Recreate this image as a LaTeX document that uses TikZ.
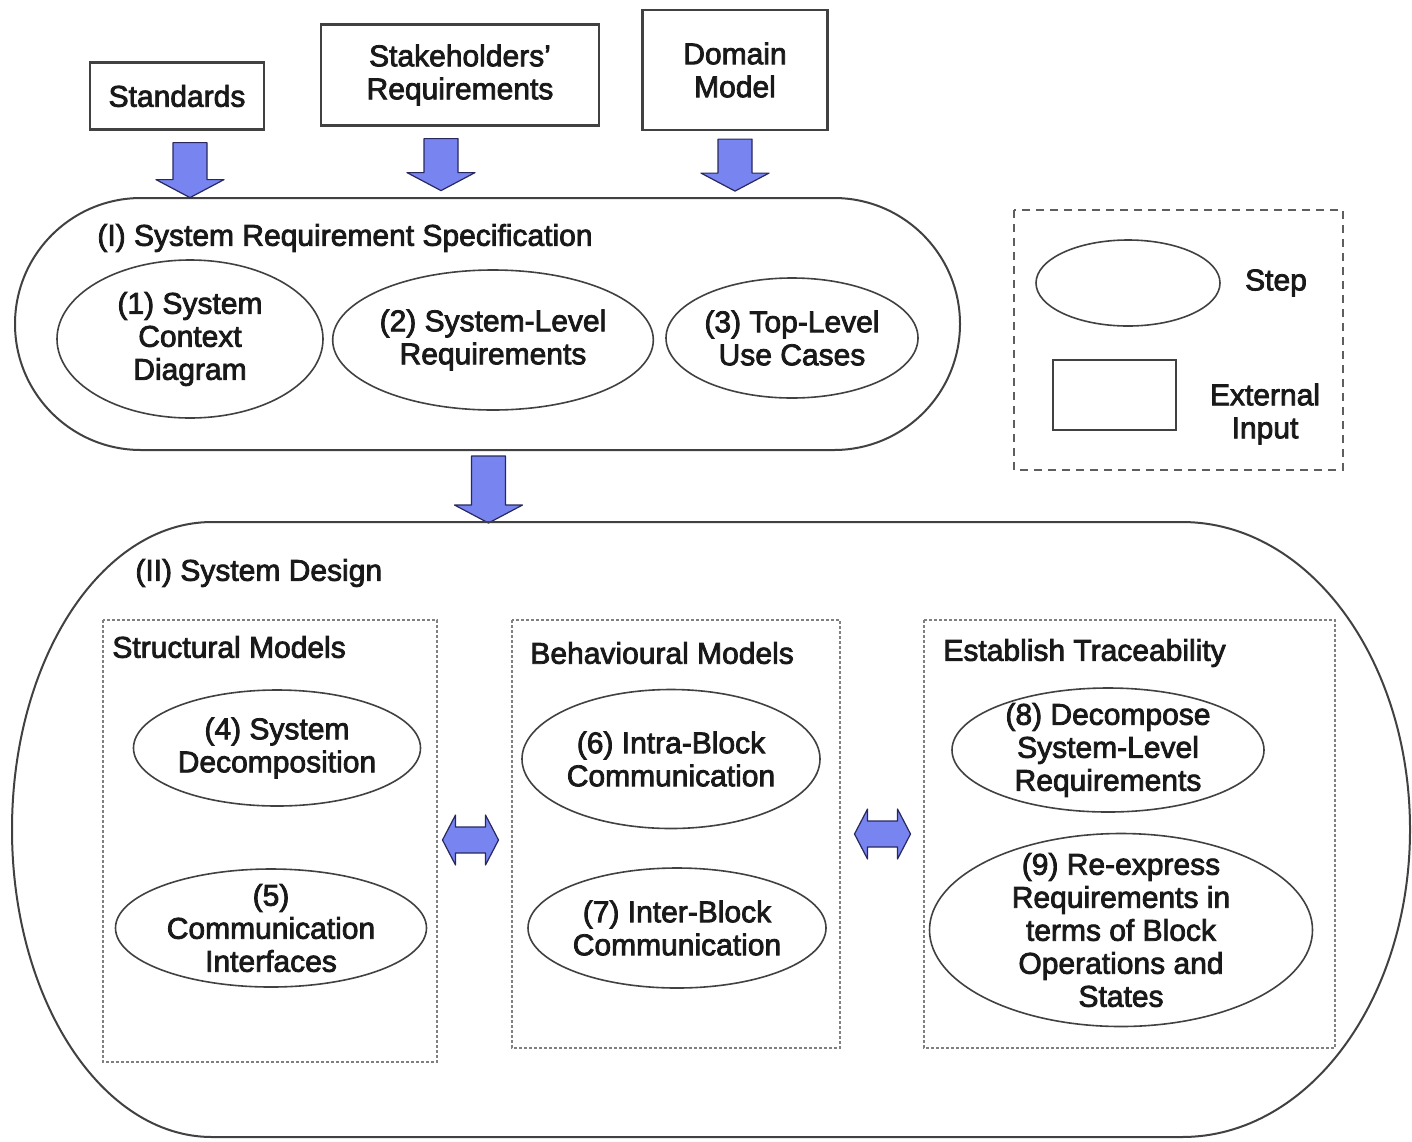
\documentclass[tikz,border=0pt]{standalone}
\usepackage{fontspec}
\setmainfont{Liberation Sans}[FakeBold=2.6]
\usetikzlibrary{shapes.geometric}
\definecolor{arrowblue}{RGB}{120,132,240}
\definecolor{arrowedge}{RGB}{40,40,95}
\definecolor{linegray}{RGB}{65,65,65}
\definecolor{inkblack}{RGB}{25,25,25}
\begin{document}
\begin{tikzpicture}[x=0.5pt,y=-0.5pt,
  every node/.style={font=\fontsize{15}{16.5}\selectfont, text=inkblack},
  inputbox/.style={draw=linegray, line width=1.1pt, align=center, inner sep=0pt},
  stepell/.style={ellipse, draw=linegray, line width=0.8pt, align=center,
                  inner xsep=0pt, inner ysep=-8pt},
  stage/.style={draw=linegray, line width=1pt},
  group/.style={draw=gray, line width=0.7pt, dash pattern=on 1.5pt off 1pt},
  legendbox/.style={draw=linegray!85, line width=1pt, dash pattern=on 4pt off 3pt},
  caption/.style={anchor=west, inner sep=0pt},
  blockarrow/.style={fill=arrowblue, draw=arrowedge, line width=0.6pt, line join=round},
  pics/downarrow/.style={code={
    \draw[blockarrow] (-17,0) -- (17,0) -- (17,#1-18) -- (34,#1-18) -- (0,#1)
      -- (-34,#1-18) -- (-17,#1-18) -- cycle;}},
  pics/lrarrow/.style={code={
    \draw[blockarrow] (-28,0) -- (-15,-25) -- (-15,-13) -- (15,-13) -- (15,-25)
      -- (28,0) -- (15,25) -- (15,13) -- (-15,13) -- (-15,25) -- cycle;}}
]
\useasboundingbox (0,0) rectangle (1412,1141);

% external inputs
\node[inputbox, minimum width=87pt, minimum height=33.5pt] (std) at (177,96) {Standards};
\node[inputbox, minimum width=139pt, minimum height=50.5pt] (stake) at (460,75) {Stakeholders'\\Requirements};
\node[inputbox, minimum width=92.5pt, minimum height=60pt] (dom) at (735,70) {Domain\\Model};

% stage I
\node[stage, rounded corners=63pt, minimum width=472.5pt, minimum height=126pt] (spec) at (487.5,324) {};
\node[caption] (specl) at (97,238) {(I) System Requirement Specification};
\node[stepell, minimum width=133pt, minimum height=79pt] (s1) at (190,339) {(1) System\\Context\\Diagram};
\node[stepell, minimum width=155pt, minimum height=70pt] (s2) at (493,340) {(2) System-Level\\Requirements};
\node[stepell, minimum width=126pt, minimum height=60pt] (s3) at (792,338) {(3) Top-Level\\Use Cases};

% inputs feeding stage I
\path (std.south) ++(13,12) pic {downarrow=55};
\path (stake.south) ++(-19,12) pic {downarrow=52};
\path (dom.south) ++(0,8) pic {downarrow=52};
% stage I feeding stage II
\path (spec.south) ++(1,5) pic {downarrow=67};

% legend
\draw[legendbox] (1014,210) rectangle (1343,470);
\node[stepell, minimum width=92pt, minimum height=43pt] (legstep) at (1128,283) {};
\node (legstepl) at (1276,283) {Step};
\node[inputbox, minimum width=61.5pt, minimum height=35pt] (leginput) at (1114.5,395) {};
\node[align=center] (leginputl) at (1265,414) {External\\Input};

% stage II
\draw[stage] (212,522) -- (1182,522)
  .. controls (1309,522) and (1410,659.7) .. (1410,829.5)
  .. controls (1410,999.3) and (1309,1137) .. (1182,1137)
  -- (212,1137)
  .. controls (101.5,1137) and (12,999.3) .. (12,829.5)
  .. controls (12,659.7) and (101.5,522) .. (212,522) -- cycle;
\node[caption] (designl) at (135,573) {(II) System Design};

% groups of steps
\draw[group] (103,620) rectangle (437,1062);
\node[caption] (structl) at (112,647) {Structural Models};
\draw[group] (512,620) rectangle (840,1048);
\node[caption] (behavl) at (530,653) {Behavioural Models};
\draw[group] (924,620) rectangle (1335,1048);
\node[caption] (tracel) at (943,653) {Establish Traceability};

\node[stepell, minimum width=143.5pt, minimum height=58pt] (s4) at (277,748) {(4) System\\Decomposition};
\node[stepell, minimum width=155.5pt, minimum height=59pt] (s5) at (271,928) {(5)\\Communication\\Interfaces};
\node[stepell, minimum width=149pt, minimum height=69.5pt] (s6) at (671,759) {(6) Intra-Block\\Communication};
\node[stepell, minimum width=149pt, minimum height=60pt] (s7) at (677,928) {(7) Inter-Block\\Communication};
\node[stepell, minimum width=156pt, minimum height=62pt] (s8) at (1108,750) {(8) Decompose\\System-Level\\Requirements};
\node[stepell, minimum width=191.5pt, minimum height=96.5pt] (s9) at (1121,930) {(9) Re-express\\Requirements in\\terms of Block\\Operations and\\States};

% links between groups
\pic at (470.5,840) {lrarrow};
\pic at (882.5,834) {lrarrow};
\end{tikzpicture}
\end{document}
